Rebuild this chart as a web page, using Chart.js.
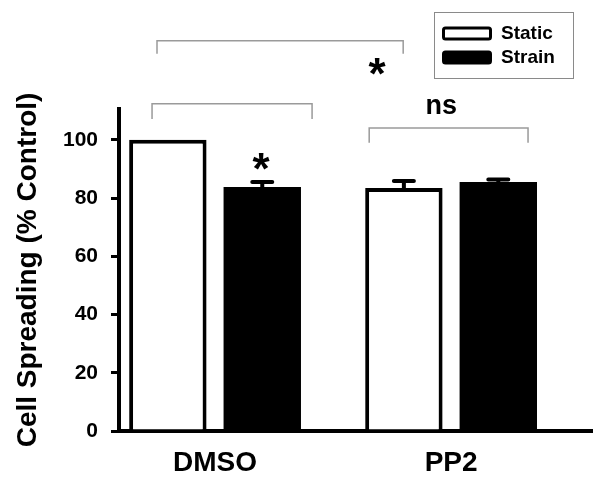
<!DOCTYPE html>
<html>
<head>
<meta charset="utf-8">
<script src="https://cdn.jsdelivr.net/npm/chart.js@4/dist/chart.umd.min.js"></script>
<style>
  html, body { margin: 0; padding: 0; background: #fff; }
  #wrap { width: 601px; height: 485px; position: relative; }
</style>
</head>
<body>
<div id="wrap"><canvas id="cellChart"></canvas></div>
<script>
// values
const categories = ['DMSO', 'PP2'];
const seriesLabels = ['Static', 'Strain'];
const staticMeans = [100, 83.5];
const strainMeans = [83.8, 85.5];
const staticErr = [0, 2.4];
const strainErr = [1.7, 0.9];
const yTicks = [0, 20, 40, 60, 80, 100];

// significance brackets (x in group units, y in % control)
const bracketFrom = [0.754, 0.733, 1.653];
const bracketTo = [1.797, 1.411, 2.326];
const bracketTop = [134, 112.4, 104.1];
const bracketFoot = [129.6, 107.2, 99.0];
const markText = ['*', '*', 'ns'];
const markX = [1.686, 1.195, 1.958];
const markY = [125.8, 93.3, 111.3];

const FONT = "'Liberation Sans', Arial, sans-serif";

const toPoints = (vals) => vals.map((v, i) => ({ x: i + 1, y: v }));

// error bars, drawn upward only like the original
const errorBars = {
    id: 'errorBars',
    afterDatasetsDraw(chart) {
        const ctx = chart.ctx;
        const yScale = chart.scales.y;
        const errs = [staticErr, strainErr];
        ctx.save();
        ctx.strokeStyle = '#000';
        ctx.lineWidth = 4;
        ctx.lineCap = 'round';
        chart.data.datasets.forEach((ds, d) => {
            chart.getDatasetMeta(d).data.forEach((bar, i) => {
                const e = errs[d][i];
                if (!e) return;
                const yTop = yScale.getPixelForValue(ds.data[i].y + e);
                const yBar = yScale.getPixelForValue(ds.data[i].y);
                ctx.beginPath();
                ctx.moveTo(bar.x, yBar);
                ctx.lineTo(bar.x, yTop);
                ctx.moveTo(bar.x - 10, yTop);
                ctx.lineTo(bar.x + 10, yTop);
                ctx.stroke();
            });
        });
        ctx.restore();
    }
};

// brackets + stars / ns
const annotations = {
    id: 'annotations',
    afterDraw(chart) {
        const ctx = chart.ctx;
        const xs = chart.scales.x, ys = chart.scales.y;
        ctx.save();
        ctx.strokeStyle = '#9a9a9a';
        ctx.lineWidth = 1.5;
        for (let i = 0; i < bracketFrom.length; i++) {
            const x0 = xs.getPixelForValue(bracketFrom[i]);
            const x1 = xs.getPixelForValue(bracketTo[i]);
            const yt = ys.getPixelForValue(bracketTop[i]);
            const yf = ys.getPixelForValue(bracketFoot[i]);
            ctx.beginPath();
            ctx.moveTo(x0, yf);
            ctx.lineTo(x0, yt);
            ctx.lineTo(x1, yt);
            ctx.lineTo(x1, yf);
            ctx.stroke();
        }
        ctx.fillStyle = '#000';
        ctx.textAlign = 'center';
        ctx.textBaseline = 'alphabetic';
        for (let i = 0; i < markText.length; i++) {
            const px = xs.getPixelForValue(markX[i]);
            const py = ys.getPixelForValue(markY[i]);
            if (markText[i] === '*') {
                const size = 44;
                ctx.font = 'bold ' + size + 'px ' + FONT;
                ctx.fillText('*', px, py + 0.55 * size);
            } else {
                const size = 27;
                ctx.font = 'bold ' + size + 'px ' + FONT;
                ctx.fillText(markText[i], px, py + 0.26 * size);
            }
        }
        ctx.restore();
    }
};

// boxed legend in the top right corner
const boxLegend = {
    id: 'boxLegend',
    afterDraw(chart) {
        const ctx = chart.ctx;
        ctx.save();
        ctx.strokeStyle = '#8a8a8a';
        ctx.lineWidth = 1;
        ctx.strokeRect(434.5, 12.5, 139, 66);
        ctx.font = 'bold 19px ' + FONT;
        ctx.textBaseline = 'middle';
        ctx.textAlign = 'left';
        chart.data.datasets.forEach((ds, d) => {
            const cy = 33 + d * 24;
            ctx.beginPath();
            ctx.roundRect(443.5, cy - 5, 47, 11, 2);
            ctx.fillStyle = ds.backgroundColor;
            ctx.fill();
            ctx.lineWidth = 3;
            ctx.strokeStyle = '#000';
            ctx.stroke();
            ctx.fillStyle = '#000';
            ctx.fillText(ds.label, 501, cy + 1);
        });
        ctx.restore();
    }
};

new Chart(document.getElementById('cellChart'), {
    type: 'bar',
    data: {
        datasets: [
            {
                label: seriesLabels[0],
                data: toPoints(staticMeans),
                backgroundColor: '#ffffff',
                borderColor: '#000000',
                borderWidth: 4,
                categoryPercentage: 0.8,
                barPercentage: 0.82
            },
            {
                label: seriesLabels[1],
                data: toPoints(strainMeans),
                backgroundColor: '#000000',
                borderColor: '#000000',
                borderWidth: 0,
                categoryPercentage: 0.8,
                barPercentage: 0.82
            }
        ]
    },
    options: {
        responsive: true,
        maintainAspectRatio: false,
        animation: false,
        layout: { padding: { top: 109, right: 9, left: 0, bottom: 0 } },
        plugins: {
            legend: { display: false },
            tooltip: { enabled: false }
        },
        scales: {
            x: {
                type: 'linear',
                min: 0.593,
                max: 2.597,
                offset: false,
                z: 1,
                afterBuildTicks: (s) => { s.ticks = categories.map((c, i) => ({ value: i + 1 })); },
                afterFit: (s) => { s.height = 54; },
                grid: { display: false, drawTicks: false, offset: false },
                border: { display: true, color: '#000', width: 4 },
                ticks: {
                    color: '#000',
                    padding: 15,
                    font: { family: FONT, size: 28, weight: 'bold' },
                    callback: (v) => categories[Math.round(v) - 1]
                }
            },
            y: {
                min: 0,
                max: 110.6,
                afterBuildTicks: (s) => { s.ticks = yTicks.map(v => ({ value: v })); },
                afterFit: (s) => { s.width = 119; },
                grid: { drawOnChartArea: false, drawTicks: true, tickLength: 8, color: '#000', lineWidth: 3 },
                border: { display: true, color: '#000', width: 4 },
                ticks: {
                    color: '#000',
                    padding: 13,
                    font: { family: FONT, size: 21, weight: 'bold' }
                },
                title: {
                    display: true,
                    text: 'Cell Spreading (% Control)',
                    color: '#000',
                    padding: { top: 11, bottom: 0 },
                    font: { family: FONT, size: 28, weight: 'bold' }
                }
            }
        }
    },
    plugins: [errorBars, annotations, boxLegend]
});
</script>
</body>
</html>
